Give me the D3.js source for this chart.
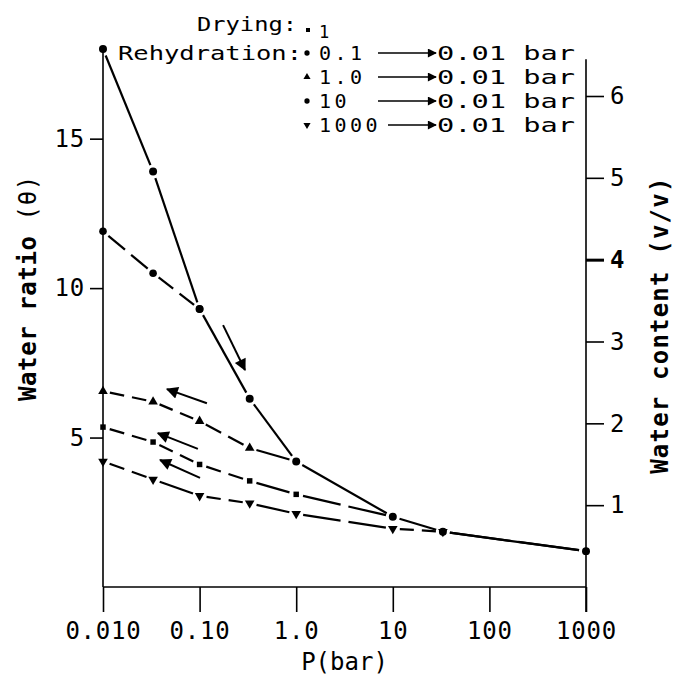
<!DOCTYPE html>
<html>
<head>
<meta charset="utf-8">
<script src="https://cdn.jsdelivr.net/npm/d3@7"></script>
<style>
  body { margin: 0; background: #fff; }
  text { font-family: "DejaVu Sans Mono", "Liberation Mono", monospace; fill: #000; }
</style>
</head>
<body>
<svg id="chart" width="688" height="678"></svg>
<script>
// pressures (bar) on the log axis
var xTicks = [0.01, 0.1, 1, 10, 100, 1000];
var xTickLabels = ['0.010', '0.10', '1.0', '10', '100', '1000'];
var leftTicks = [5, 10, 15];
var rightTicks = [1, 2, 3, 4, 5, 6];

// drying curve
var dryP = [0.01, 0.033, 0.1, 0.33, 1, 10, 33, 1000];
var dryTheta = [18.0, 13.9, 9.3, 6.3, 4.2, 2.35, 1.85, 1.2];

// rehydration curves, from the drying pressure back to 0.01 bar
var re01P = [0.1, 0.033, 0.01];
var re01Theta = [9.3, 10.5, 11.9];
var re1P = [1, 0.33, 0.1, 0.033, 0.01];
var re1Theta = [4.2, 4.65, 5.55, 6.2, 6.55];
var re10P = [10, 1, 0.33, 0.1, 0.033, 0.01];
var re10Theta = [2.35, 3.1, 3.55, 4.1, 4.85, 5.35];
var re1000P = [1000, 33, 10, 1, 0.33, 0.1, 0.033, 0.01];
var re1000Theta = [1.2, 1.85, 1.95, 2.45, 2.8, 3.05, 3.6, 4.2];

var legendLabels = ['0.1', '1.0', '10', '1000'];

var svg = d3.select('#chart');
var margin = {left: 103, right: 102, top: 49, bottom: 91};
var W = 688, H = 678;

var x = d3.scaleLog().domain([0.01, 1000]).range([margin.left, W - margin.right]);
var yL = d3.scaleLinear().domain([0, 18]).range([H - margin.bottom, margin.top]);
var yR = d3.scaleLinear().domain([0, 6]).range([H - margin.bottom, 96]);
var y0 = H - margin.bottom;

// ---- axes ----
var gx = svg.append('g').attr('transform', 'translate(0,' + y0 + ')')
    .call(d3.axisBottom(x).tickValues(xTicks).tickSize(25).tickPadding(10)
        .tickFormat(function (d, i) { return xTickLabels[i]; }));
gx.select('.domain').attr('d', 'M' + x(0.01) + ',0H' + x(1000));

var gl = svg.append('g').attr('transform', 'translate(' + margin.left + ',0)')
    .call(d3.axisLeft(yL).tickValues(leftTicks).tickSize(13).tickPadding(5));
gl.select('.domain').attr('d', 'M0,' + yL(18.1) + 'V' + y0);

var gr = svg.append('g').attr('transform', 'translate(' + (W - margin.right) + ',0)')
    .call(d3.axisRight(yR).tickValues(rightTicks).tickSize(18).tickPadding(6)
        .tickFormat(d3.format('d')));
gr.select('.domain').attr('d', 'M0,' + yR(6.45) + 'V' + (y0 + 25));

svg.selectAll('.tick text').attr('font-size', 24).attr('letter-spacing', 0.8)
    .attr('font-family', '"DejaVu Sans Mono", monospace');
svg.selectAll('.tick line, .domain').attr('stroke', '#000').attr('stroke-width', 1.6);
gr.selectAll('.tick').filter(function (d) { return d === 4; })
    .select('line').attr('stroke-width', 3);
gr.selectAll('.tick').filter(function (d) { return d === 4; })
    .select('text').attr('font-weight', 'bold');

// axis titles
svg.append('text')
    .attr('transform', 'translate(36,' + yL(10) + ') rotate(-90)')
    .attr('text-anchor', 'middle')
    .attr('font-size', 24)
    .attr('letter-spacing', 0.6)
    .html('<tspan font-weight="bold">Water ratio</tspan> (\u03b8)');

svg.append('text')
    .attr('transform', 'translate(668,' + yR(3.2) + ') rotate(-90)')
    .attr('text-anchor', 'middle')
    .attr('font-size', 24)
    .attr('letter-spacing', 1.2)
    .attr('font-weight', 'bold')
    .text('Water content (v/v)');

svg.append('text')
    .attr('x', (x(1) + x(10)) / 2)
    .attr('y', 670)
    .attr('text-anchor', 'middle')
    .attr('font-size', 24)
    .text('P(bar)');

// ---- curves ----
function zip(ps, ts) {
    return ps.map(function (p, i) { return {p: p, t: ts[i]}; });
}

// each segment is shortened near the markers and, for rehydration, split in two dashes
function drawCurve(pts, gap, split) {
    var g = svg.append('g').attr('stroke', '#000').attr('stroke-width', 2.2)
        .attr('stroke-linecap', 'butt');
    for (var i = 0; i < pts.length - 1; i++) {
        var ax = x(pts[i].p), ay = yL(pts[i].t);
        var bx = x(pts[i + 1].p), by = yL(pts[i + 1].t);
        var len = Math.sqrt((bx - ax) * (bx - ax) + (by - ay) * (by - ay));
        var ux = (bx - ax) / len, uy = (by - ay) / len;
        var s = gap, e = len - gap;
        var pieces = split && len > 50 ? [[s, len / 2 - 4], [len / 2 + 4, e]] : [[s, e]];
        pieces.forEach(function (pc) {
            g.append('line')
                .attr('x1', ax + ux * pc[0]).attr('y1', ay + uy * pc[0])
                .attr('x2', ax + ux * pc[1]).attr('y2', ay + uy * pc[1]);
        });
    }
}

function symbolPath(type, size) {
    return d3.symbol().type(type === 'circle' ? d3.symbolCircle :
        type === 'square' ? d3.symbolSquare : d3.symbolTriangle).size(size)();
}

function drawMarkers(pts, type, size) {
    svg.append('g').selectAll('path').data(pts).join('path')
        .attr('transform', function (d) {
            return 'translate(' + x(d.p) + ',' + yL(d.t) + ')' + (type === 'down' ? ' rotate(180)' : '');
        })
        .attr('d', symbolPath(type, size))
        .attr('fill', '#000');
}

var dry = zip(dryP, dryTheta);
var r01 = zip(re01P, re01Theta);
var r1 = zip(re1P, re1Theta);
var r10 = zip(re10P, re10Theta);
var r1000 = zip(re1000P, re1000Theta);

drawCurve(dry, 7, false);
drawCurve(r01, 7, true);
drawCurve(r1, 7, true);
drawCurve(r10, 7, true);
drawCurve(r1000, 7, true);

drawMarkers(dry, 'circle', 50);
drawMarkers(r01, 'circle', 45);
drawMarkers(r1.slice(1), 'triangle', 40);
drawMarkers(r10.slice(1), 'square', 30);
drawMarkers(r1000.slice(1), 'down', 40);

// ---- direction arrows (placed in data coordinates) ----
var defs = svg.append('defs');
defs.append('marker').attr('id', 'ah').attr('viewBox', '0 0 10 10')
    .attr('refX', 9).attr('refY', 5).attr('markerWidth', 8).attr('markerHeight', 6)
    .attr('orient', 'auto').attr('markerUnits', 'strokeWidth')
    .append('path').attr('d', 'M0,0L10,5L0,10z').attr('fill', '#000');
defs.append('marker').attr('id', 'ahl').attr('viewBox', '0 0 10 10')
    .attr('refX', 9).attr('refY', 5).attr('markerWidth', 9).attr('markerHeight', 6)
    .attr('orient', 'auto').attr('markerUnits', 'strokeWidth')
    .append('path').attr('d', 'M0,0L10,5L0,10z').attr('fill', '#000');

var arrowFrom = [[0.175, 8.76], [0.119, 6.15], [0.096, 4.62], [0.101, 3.65]];
var arrowTo = [[0.295, 7.26], [0.046, 6.62], [0.037, 5.15], [0.039, 4.25]];
arrowFrom.forEach(function (a, i) {
    svg.append('line')
        .attr('x1', x(a[0])).attr('y1', yL(a[1]))
        .attr('x2', x(arrowTo[i][0])).attr('y2', yL(arrowTo[i][1]))
        .attr('stroke', '#000').attr('stroke-width', 2)
        .attr('marker-end', 'url(#ah)');
});

// ---- legend ----
var leg = svg.append('g').attr('font-size', 20);
leg.append('text').attr('x', 197).attr('y', 31).attr('textLength', 100)
    .attr('lengthAdjust', 'spacingAndGlyphs').text('Drying:');
leg.append('rect').attr('x', 306).attr('y', 28).attr('width', 4).attr('height', 4).attr('fill', '#000');
leg.append('text').attr('x', 319).attr('y', 38).attr('font-size', 17).text('1');
leg.append('text').attr('x', 118).attr('y', 60).attr('textLength', 184)
    .attr('lengthAdjust', 'spacingAndGlyphs').text('Rehydration:');

var legSym = ['circle', 'triangle', 'square', 'down'];
legendLabels.forEach(function (lab, i) {
    var yy = 60 + i * 24;
    leg.append('path')
        .attr('transform', 'translate(307,' + (yy - 7) + ')' + (legSym[i] === 'down' ? ' rotate(180)' : ''))
        .attr('d', symbolPath(legSym[i] === 'square' ? 'circle' : legSym[i], 22))
        .attr('fill', '#000');
    leg.append('text').attr('x', 319).attr('y', yy).attr('letter-spacing', 3.5).text(lab);
    leg.append('line').attr('x1', i === 3 ? 388 : 378).attr('y1', yy - 7).attr('x2', 436).attr('y2', yy - 7)
        .attr('stroke', '#000').attr('stroke-width', 1.5).attr('marker-end', 'url(#ahl)');
    leg.append('text').attr('x', 437).attr('y', yy).attr('textLength', 138)
        .attr('lengthAdjust', 'spacingAndGlyphs').text('0.01 bar');
});
</script>
</body>
</html>
